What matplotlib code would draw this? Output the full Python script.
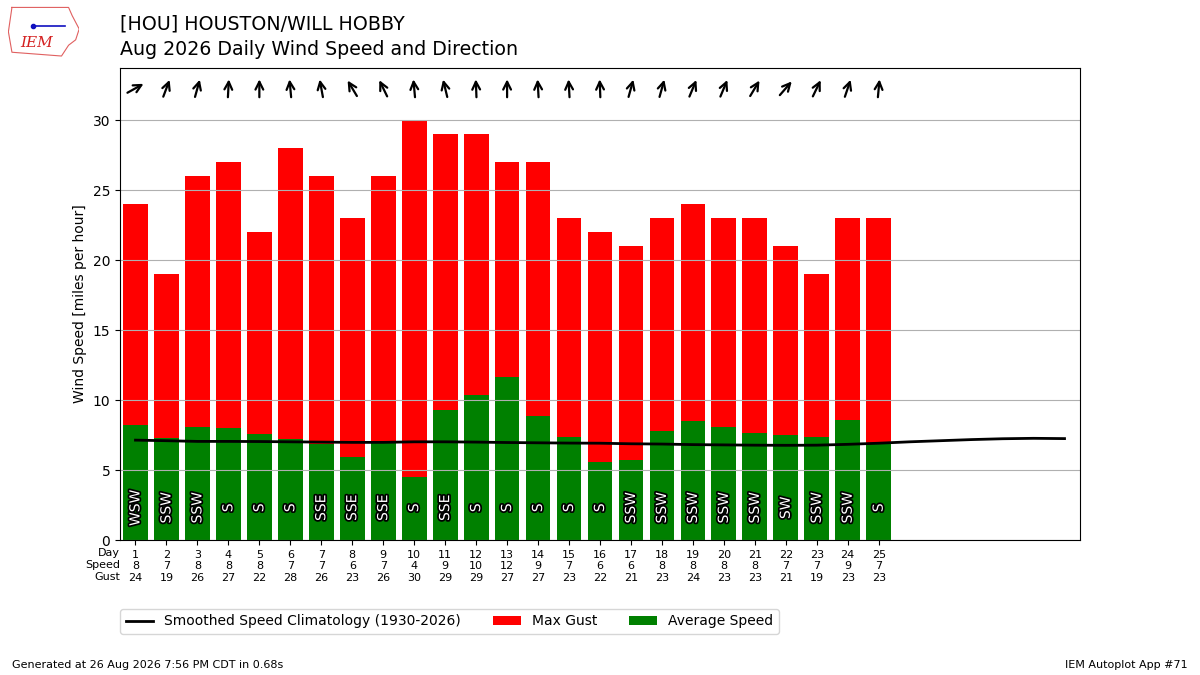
import numpy as np
import matplotlib.pyplot as plt
import matplotlib.patheffects as PathEffects

# daily values
days = list(range(1, 26))
avg_speed = [8.2, 7.3, 8.1, 8.0, 7.6, 7.2, 6.85, 5.9, 6.95, 4.5,
             9.3, 10.4, 11.65, 8.9, 7.35, 5.6, 5.75, 7.8, 8.5, 8.05,
             7.65, 7.5, 7.35, 8.6, 6.95]
max_gust = [24, 19, 26, 27, 22, 28, 26, 23, 26, 30,
            29, 29, 27, 27, 23, 22, 21, 23, 24, 23,
            23, 21, 19, 23, 23]
speed_lbl = [8, 7, 8, 8, 8, 7, 7, 6, 7, 4, 9, 10, 12, 9, 7, 6, 6, 8, 8, 8,
             8, 7, 7, 9, 7]
wind_dir = [240, 200, 195, 183, 180, 175, 170, 150, 155, 175,
            167, 178, 180, 177, 177, 178, 195, 195, 202, 202,
            210, 220, 205, 198, 185]
dir_txt = ['WSW', 'SSW', 'SSW', 'S', 'S', 'S', 'SSE', 'SSE', 'SSE', 'S',
           'SSE', 'S', 'S', 'S', 'S', 'S', 'SSW', 'SSW', 'SSW', 'SSW',
           'SSW', 'SW', 'SSW', 'SSW', 'S']

clim_days = list(range(1, 32))
clim_speed = [7.14, 7.1, 7.05, 7.05, 7.04, 7.02, 7.0, 6.98, 6.98, 7.02,
              7.02, 7.0, 6.97, 6.95, 6.93, 6.92, 6.88, 6.86, 6.82, 6.8,
              6.78, 6.77, 6.78, 6.84, 6.92, 7.02, 7.1, 7.18, 7.24, 7.27,
              7.25]

fig = plt.figure(figsize=(12, 6.75), dpi=100)
ax = fig.add_axes([0.1, 0.2, 0.8, 0.6993])

ax.bar(days, max_gust, width=0.8, color='r', label='Max Gust')
ax.bar(days, avg_speed, width=0.8, color='g', label='Average Speed')
ax.plot(clim_days, clim_speed, color='k', lw=2,
        label='Smoothed Speed Climatology (1930-2026)')

ymax = max(max_gust) * 1.125
ax.set_ylim(0, ymax)
ax.set_xlim(0.5, 31.5)

# direction arrows along the top
for d, wd in zip(days, wind_dir):
    rad = np.radians(wd + 180)
    dx = np.sin(rad) * 0.3
    dy = np.cos(rad) * 0.64
    y0 = ymax * 0.957
    ax.annotate('', xy=(d + dx, y0 + dy), xytext=(d - dx, y0 - dy),
                arrowprops=dict(arrowstyle='->', lw=1.6, color='k',
                                shrinkA=0, shrinkB=0, mutation_scale=14))

# direction names inside the bars
for d, t in zip(days, dir_txt):
    txt = ax.text(d, 2.3, t, rotation=90, ha='center', va='center',
                  color='white', fontsize=10)
    txt.set_path_effects([PathEffects.withStroke(linewidth=2.5,
                                                 foreground='k')])

ax.set_xticks(days)
ax.set_xticklabels(['%s\n%s\n%s' % (d, s, g)
                    for d, s, g in zip(days, speed_lbl, max_gust)],
                   fontsize=8)
ax.text(0.5, -0.018, 'Day\nSpeed\nGust', transform=ax.get_xaxis_transform(),
        ha='right', va='top', fontsize=8, multialignment='right')

ax.set_yticks(range(0, 31, 5))
ax.set_ylabel('Wind Speed [miles per hour]')
ax.grid(True, axis='y')

ax.legend(ncol=3, loc='upper left', bbox_to_anchor=(0, -0.146),
          borderaxespad=0, fontsize=10, columnspacing=2.3)

fig.text(0.1, 0.978, '[HOU] HOUSTON/WILL HOBBY\n'
         'Aug 2026 Daily Wind Speed and Direction',
         ha='left', va='top', fontsize=13.7, linespacing=1.4)
fig.text(0.01, 0.01, 'Generated at 26 Aug 2026 7:56 PM CDT in 0.68s',
         fontsize=8)
fig.text(0.99, 0.01, 'IEM Autoplot App #71', ha='right', fontsize=8)

# rough logo
lax = fig.add_axes([0.007, 0.913, 0.059, 0.08])
lax.axis('off')
lax.plot([0.05, 0.85, 0.9, 1.0, 0.95, 0.85, 0.75, 0.05, 0.0, 0.05],
         [0.95, 0.95, 0.8, 0.55, 0.35, 0.25, 0.05, 0.12, 0.5, 0.95],
         color='#e06060', lw=0.8)
lax.text(0.4, 0.3, 'IEM', color='#d42020', fontsize=11, style='italic',
         family='DejaVu Serif', ha='center', va='center')
lax.plot([0.35, 0.8], [0.6, 0.6], color='#1010c0', lw=1.2)
lax.plot([0.35], [0.6], 'o', color='#1010c0', ms=3)
lax.set_xlim(0, 1)
lax.set_ylim(0, 1)

fig.savefig('out.png', dpi=100)
